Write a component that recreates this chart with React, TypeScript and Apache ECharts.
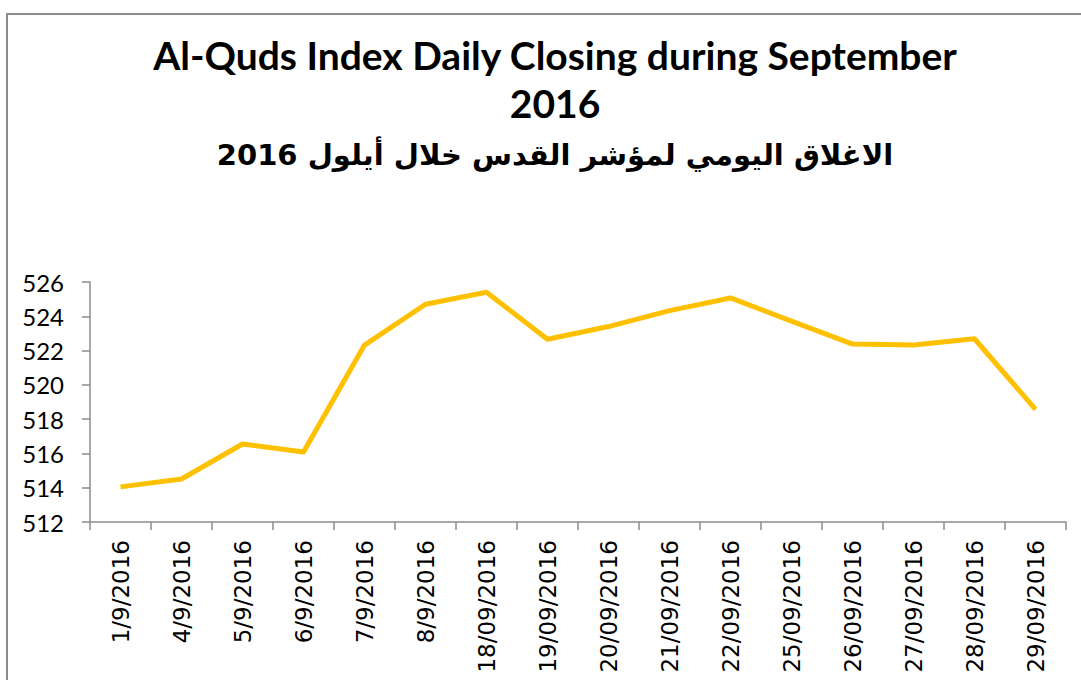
import React, { useEffect, useRef } from "react";
import * as echarts from "echarts";

const categories = [
  "1/9/2016", "4/9/2016", "5/9/2016", "6/9/2016", "7/9/2016", "8/9/2016",
  "18/09/2016", "19/09/2016", "20/09/2016", "21/09/2016", "22/09/2016",
  "25/09/2016", "26/09/2016", "27/09/2016", "28/09/2016", "29/09/2016",
];
const closing = [
  514.05, 514.51, 516.55, 516.08, 522.32, 524.7, 525.4, 522.66, 523.4,
  524.33, 525.07, 523.72, 522.38, 522.32, 522.69, 518.57,
];
const yMin = 512;
const yMax = 526;
const yStep = 2;
const titleLine1 = "Al-Quds Index Daily Closing during September";
const titleLine2 = "2016";
const titleLine3 = "الاغلاق اليومي لمؤشر القدس خلال أيلول 2016";

export default function App() {
  const ref = useRef<HTMLDivElement>(null);
  useEffect(() => {
    if (!ref.current) return;
    const chart = echarts.init(ref.current, null, { renderer: "svg" });
    chart.setOption({
      animation: false,
      backgroundColor: "#ffffff",
      grid: { left: 90, right: 15, top: 282, bottom: 158, containLabel: false },
      graphic: [
        {
          type: "polyline",
          shape: { points: [[7, 700], [7, 14], [1090, 14]] },
          style: { stroke: "#8c8c8c", lineWidth: 2, fill: "none" },
          silent: true,
        },
        {
          type: "text",
          x: 555,
          y: 55,
          style: {
            text: titleLine1,
            font: "bold 39px Lato",
            fill: "#000",
            align: "center",
            verticalAlign: "middle",
          },
        },
        {
          type: "text",
          x: 555,
          y: 103,
          style: {
            text: titleLine2,
            font: "bold 39px Lato",
            fill: "#000",
            align: "center",
            verticalAlign: "middle",
          },
        },
        {
          type: "text",
          x: 555,
          y: 155,
          style: {
            text: titleLine3,
            font: "bold 29px 'DejaVu Sans'",
            fill: "#000",
            align: "center",
            verticalAlign: "middle",
          },
        },
      ],
      xAxis: {
        type: "category",
        data: categories,
        boundaryGap: true,
        axisLine: { lineStyle: { color: "#8c8c8c", width: 1.5 } },
        axisTick: { show: true, length: 8, lineStyle: { color: "#8c8c8c", width: 1.5 } },
        axisLabel: {
          rotate: 90,
          margin: 18,
          interval: 0,
          color: "#000",
          fontSize: 23,
          fontWeight: "normal",
          fontFamily: "'DejaVu Sans', Verdana, sans-serif",
        },
        splitLine: { show: false },
      },
      yAxis: {
        type: "value",
        min: yMin,
        max: yMax,
        interval: yStep,
        axisLine: { show: true, lineStyle: { color: "#8c8c8c", width: 1.5 } },
        axisTick: { show: true, length: 8, lineStyle: { color: "#8c8c8c", width: 1.5 } },
        axisLabel: {
          margin: 26,
          color: "#000",
          fontSize: 24,
          fontFamily: "Lato",
        },
        splitLine: { show: false },
      },
      series: [
        {
          type: "line",
          data: closing,
          symbol: "none",
          lineStyle: { color: "#FFC000", width: 5, join: "round" },
          itemStyle: { color: "#FFC000" },
        },
      ],
    });
    return () => chart.dispose();
  }, []);
  return (
    <div
      ref={ref}
      style={{ position: "absolute", left: 0, top: 0, width: 1081, height: 680 }}
    />
  );
}
